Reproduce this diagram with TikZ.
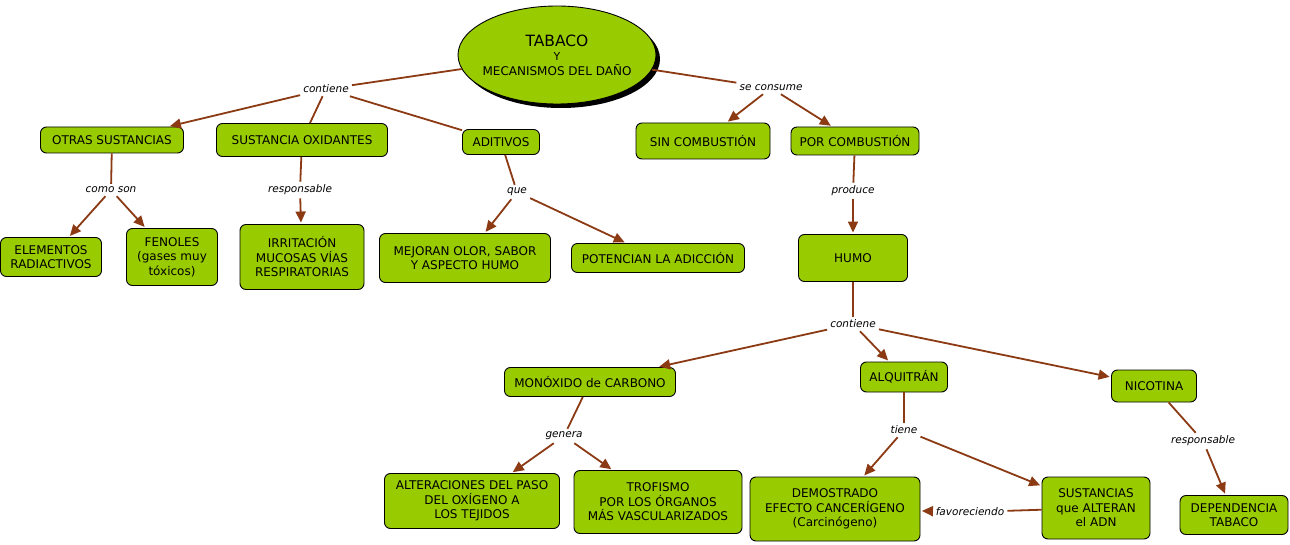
\documentclass[tikz,border=0pt]{standalone}
\usepackage{fontspec}
\setmainfont{DejaVu Sans}
\usetikzlibrary{shapes.geometric,arrows.meta,shadows}
\definecolor{boxgreen}{RGB}{153,204,0}
\definecolor{linkbrown}{RGB}{139,58,19}
\begin{document}
\begin{tikzpicture}[x=1pt,y=-1pt,
  concept/.style={draw=black, line width=0.9pt, fill=boxgreen, rounded corners=6pt, align=center, font=\fontsize{12}{14.5}\selectfont, inner sep=2pt},
  linklabel/.style={font=\fontsize{10.5}{12}\selectfont\itshape, inner sep=3pt},
  conn/.style={draw=linkbrown, line width=1.8pt},
  arr/.style={conn, -{Triangle[length=11pt,width=10pt]}, shorten >=1.5pt},
]
\useasboundingbox (0,0) rectangle (1290,545);
\fill[white] (0,0) rectangle (1290,545);

% concepts
\node[concept, ellipse, rounded corners=0pt, inner xsep=-4.5pt, inner ysep=0pt, minimum width=198pt, minimum height=98pt,
  drop shadow={shadow xshift=4pt, shadow yshift=-4pt, fill=black, opacity=1}]
  (tabaco) at (557,55) {{\fontsize{15.5}{18}\selectfont TABACO}\\{\fontsize{11}{13}\selectfont Y}\\MECANISMOS DEL DAÑO};

\node[concept, minimum width=143pt, minimum height=26pt] (otras) at (112,140) {OTRAS SUSTANCIAS};
\node[concept, minimum width=171pt, minimum height=33pt] (oxid) at (302,140) {SUSTANCIA OXIDANTES};
\node[concept, minimum width=77pt, minimum height=25pt] (aditivos) at (501,142) {ADITIVOS};
\node[concept, minimum width=134pt, minimum height=36pt] (sin) at (703,141) {SIN COMBUSTIÓN};
\node[concept, minimum width=128pt, minimum height=28pt] (por) at (855,141) {POR COMBUSTIÓN};

\node[concept, minimum width=101pt, minimum height=39pt] (elem) at (51,257) {ELEMENTOS\\RADIACTIVOS};
\node[concept, minimum width=91pt, minimum height=57pt] (fenoles) at (172,257) {FENOLES\\(gases muy\\tóxicos)};
\node[concept, minimum width=124pt, minimum height=65pt] (irrit) at (302,257) {IRRITACIÓN\\MUCOSAS VÍAS\\RESPIRATORIAS};
\node[concept, minimum width=171pt, minimum height=49pt] (mejoran) at (465,258) {MEJORAN OLOR, SABOR\\Y ASPECTO HUMO};
\node[concept, minimum width=173pt, minimum height=29pt] (potencian) at (658,258) {POTENCIAN LA ADICCIÓN};
\node[concept, minimum width=109pt, minimum height=47pt] (humo) at (853,258) {HUMO};

\node[concept, minimum width=171pt, minimum height=29pt] (monox) at (590,382) {MONÓXIDO de CARBONO};
\node[concept, minimum width=87pt, minimum height=30pt] (alq) at (904,377) {ALQUITRÁN};
\node[concept, minimum width=85pt, minimum height=32pt] (nico) at (1154,386) {NICOTINA};

\node[concept, minimum width=175pt, minimum height=55pt] (alter) at (472,501) {ALTERACIONES DEL PASO\\DEL OXÍGENO A\\LOS TEJIDOS};
\node[concept, minimum width=168pt, minimum height=63pt] (trof) at (658,502) {TROFISMO\\POR LOS ÓRGANOS\\MÁS VASCULARIZADOS};
\node[concept, minimum width=170pt, minimum height=64pt] (demo) at (835,509) {DEMOSTRADO\\EFECTO CANCERÍGENO\\(Carcinógeno)};
\node[concept, minimum width=108pt, minimum height=62pt] (sust) at (1096,508) {SUSTANCIAS\\que ALTERAN\\el ADN};
\node[concept, minimum width=108pt, minimum height=39pt] (dep) at (1234,515) {DEPENDENCIA\\TABACO};

% link labels
\node[linklabel] (l1) at (326,89) {contiene};
\node[linklabel] (l2) at (771,88) {se consume};
\node[linklabel] (l3) at (111,190) {como son};
\node[linklabel] (l4) at (300,190) {responsable};
\node[linklabel] (l5) at (517,192) {que};
\node[linklabel] (l6) at (853,191) {produce};
\node[linklabel] (l7) at (853,324) {contiene};
\node[linklabel] (l8) at (564,436) {genera};
\node[linklabel] (l9) at (904,430) {tiene};
\node[linklabel] (l10) at (1203,441) {responsable};
\node[linklabel] (l11) at (970,512) {favoreciendo};

% connectors
\draw[conn] (tabaco) -- (l1);
\draw[arr] (l1) -- (otras);
\draw[conn] (l1) -- (oxid);
\draw[conn] (l1) -- (aditivos);

\draw[conn] (tabaco) -- (l2);
\draw[arr] (l2) -- (sin);
\draw[arr] (l2) -- (por);

\draw[conn] (otras) -- (l3);
\draw[arr] (l3) -- (elem);
\draw[arr] (l3) -- (fenoles);

\draw[conn] (oxid) -- (l4);
\draw[arr] (l4) -- (irrit);

\draw[conn] (aditivos) -- (l5);
\draw[arr] (l5) -- (mejoran);
\draw[arr] (l5) -- (potencian);

\draw[conn] (por) -- (l6);
\draw[arr] (l6) -- (humo);

\draw[conn] (humo) -- (l7);
\draw[arr] (l7) -- (monox);
\draw[arr] (l7) -- (alq);
\draw[arr] (l7) -- (nico);

\draw[conn] (monox) -- (l8);
\draw[arr] (l8) -- (alter);
\draw[arr] (l8) -- (trof);

\draw[conn] (alq) -- (l9);
\draw[arr] (l9) -- (demo);
\draw[arr] (l9) -- (sust);

\draw[conn] (sust) -- (l11);
\draw[arr] (l11) -- (demo);

\draw[conn] (nico) -- (l10);
\draw[arr] (l10) -- (dep);
\end{tikzpicture}
\end{document}
